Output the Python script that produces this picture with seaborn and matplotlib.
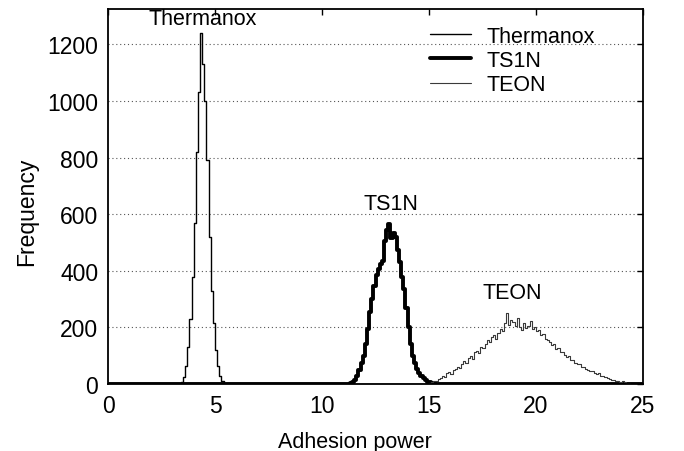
import numpy as np
import pandas as pd
import matplotlib
matplotlib.use("Agg")
import matplotlib.pyplot as plt
from matplotlib.lines import Line2D
import seaborn as sns

# ---- data (counts per 0.1-wide bin) ----
bin_width = 0.1
thermanox_start = 3.4
thermanox_counts = [8, 25, 65, 130, 230, 380, 570, 820, 1030, 1240,
                    1130, 1000, 790, 520, 330, 215, 120, 65, 30, 10]

ts1n_start = 11.2
ts1n_counts = [2, 4, 7, 15, 30, 50, 75, 100, 140, 195,
               255, 300, 345, 385, 405, 425, 435, 505, 545, 565,
               515, 532, 520, 475, 430, 380, 335, 270, 200, 140,
               100, 75, 55, 40, 28, 20, 13, 9, 6, 4,
               3, 2, 1]

teon_start = 14.9
teon_counts = [2, 5, 8, 12, 10, 18, 22, 28, 25, 38,
               42, 36, 50, 55, 62, 58, 72, 80, 74, 92,
               98, 90, 112, 118, 110, 132, 128, 142, 155, 148,
               165, 172, 160, 182, 195, 188, 215, 252, 210, 228,
               218, 205, 232, 200, 192, 215, 198, 205, 222, 196,
               202, 188, 192, 175, 178, 160, 155, 148, 138, 140,
               125, 128, 112, 115, 104, 95, 98, 84, 86, 75,
               70, 72, 62, 60, 55, 50, 48, 45, 40, 36,
               38, 30, 28, 25, 22, 18, 15, 14, 12, 10,
               8, 12, 6, 4, 3, 2]

series_names = ["Thermanox", "TS1N", "TEON"]
x_ticks = [0, 5, 10, 15, 20, 25]
y_ticks = [0, 200, 400, 600, 800, 1000, 1200]


def to_frame(start, counts):
    centers = start + bin_width * (np.arange(len(counts)) + 0.5)
    return pd.DataFrame({"x": np.round(centers, 4), "count": counts})


frames = [to_frame(thermanox_start, thermanox_counts),
          to_frame(ts1n_start, ts1n_counts),
          to_frame(teon_start, teon_counts)]

styles = [dict(color="black", linewidth=1.0),
          dict(color="black", linewidth=2.8),
          dict(color="#3a3a3a", linewidth=0.8)]

sns.set_theme(style="white")
plt.rcParams["font.family"] = ["Liberation Sans", "DejaVu Sans"]
plt.rcParams["text.color"] = "black"

fig = plt.figure(figsize=(6.84, 4.52), dpi=100)
ax = fig.add_axes([0.158, 0.148, 0.782, 0.830])

for df, st in zip(frames, styles):
    sns.histplot(data=df, x="x", weights="count", binwidth=bin_width,
                 binrange=(0, 25), element="step", fill=False, ax=ax, **st)

ax.set_xlim(0, 25)
ax.set_ylim(0, 1325)
ax.set_xticks(x_ticks)
ax.set_yticks(y_ticks)
ax.tick_params(direction="in", length=4, width=1, top=True, right=True,
               labelsize=16.5, pad=7, colors="black")
ax.set_xlabel("Adhesion power", fontsize=15.5, labelpad=10, color="black",
              x=0.462)
ax.set_ylabel("Frequency", fontsize=16.5, labelpad=7, color="black",
              y=0.461)

for yv in y_ticks[1:]:
    ax.axhline(yv, color="#555555", linestyle=(0, (1, 2.5)), linewidth=0.8,
               zorder=0)

for sp in ax.spines.values():
    sp.set_color("black")
    sp.set_linewidth(1.3)

# annotations
ax.text(4.4, 1330, "Thermanox", ha="center", va="top", fontsize=15.5)
ax.text(13.2, 600, "TS1N", ha="center", va="bottom", fontsize=15.5)
ax.text(18.9, 285, "TEON", ha="center", va="bottom", fontsize=15.5)

handles = [Line2D([], [], **st) for st in styles]
ax.legend(handles, series_names, loc="upper right", frameon=False,
          fontsize=15.5, handlelength=1.9, handletextpad=0.75,
          labelspacing=0.15, bbox_to_anchor=(0.935, 0.99),
          borderaxespad=0.2)

fig.savefig("out.png", dpi=100)
